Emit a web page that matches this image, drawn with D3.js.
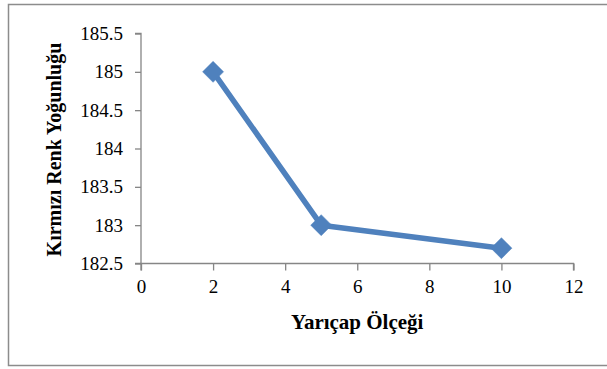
<!DOCTYPE html>
<html>
<head>
<meta charset="utf-8">
<script src="https://cdn.jsdelivr.net/npm/d3@7"></script>
<style>
  body { margin: 0; background: #fff; }
  svg text { font-family: 'Liberation Serif', 'Times New Roman', serif; fill: #000; }
</style>
</head>
<body>
<svg id="chart"></svg>
<script>
var width = 607;
var height = 369;

// data
var radiusScale = [2, 5, 10];
var redIntensity = [185, 183, 182.7];
var xTicks = [0, 2, 4, 6, 8, 10, 12];
var yTicks = [182.5, 183, 183.5, 184, 184.5, 185, 185.5];

var xTitle = 'Yarıçap Ölçeği';
var yTitle = 'Kırmızı Renk Yoğunluğu';

var serif = "'Liberation Serif', 'Times New Roman', serif";
var axisColor = '#868686';
var lineColor = '#4f81bd';

var svg = d3.select('#chart')
  .attr('width', width)
  .attr('height', height);

// outer chart border (right edge is cut off in the original)
svg.append('rect')
  .attr('x', 8.5)
  .attr('y', 4.5)
  .attr('width', 640)
  .attr('height', 361)
  .attr('fill', 'none')
  .attr('stroke', '#8c8c8c')
  .attr('stroke-width', 1.5);

var x = d3.scaleLinear().domain([0, 12]).range([141, 573.5]);
var y = d3.scaleLinear().domain([182.5, 185.5]).range([263.5, 33.5]);

// x axis
var xAxis = svg.append('g')
  .attr('transform', 'translate(0,' + y(182.5) + ')')
  .call(d3.axisBottom(x).tickValues(xTicks).tickSize(7).tickPadding(9).tickFormat(d3.format('d')));

// y axis
var yAxis = svg.append('g')
  .attr('transform', 'translate(' + x(0) + ',0)')
  .call(d3.axisLeft(y).tickValues(yTicks).tickSize(6).tickPadding(12).tickFormat(function(d) { return String(d); }));

[xAxis, yAxis].forEach(function(g) {
  g.attr('font-family', serif).attr('font-size', 19);
  g.select('.domain').attr('stroke', axisColor).attr('stroke-width', 1.3);
  g.selectAll('.tick line').attr('stroke', axisColor).attr('stroke-width', 1.3);
  g.selectAll('.tick text').attr('fill', '#000');
});
xAxis.select('.domain').attr('d', 'M' + x(0) + ',7V0H' + x(12) + 'V7');
yAxis.select('.domain').attr('d', 'M-6,' + y(185.5) + 'H0V' + y(182.5) + 'H-6');

// series
var points = radiusScale.map(function(r, i) { return { x: r, y: redIntensity[i] }; });

svg.append('path')
  .datum(points)
  .attr('fill', 'none')
  .attr('stroke', lineColor)
  .attr('stroke-width', 5.5)
  .attr('stroke-linejoin', 'round')
  .attr('d', d3.line().x(function(d) { return x(d.x); }).y(function(d) { return y(d.y); }));

svg.selectAll('.marker')
  .data(points)
  .enter()
  .append('path')
  .attr('class', 'marker')
  .attr('transform', function(d) { return 'translate(' + x(d.x) + ',' + y(d.y) + ')'; })
  .attr('d', 'M0,-10.5L10.5,0L0,10.5L-10.5,0Z')
  .attr('fill', lineColor)
  .attr('stroke', lineColor)
  .attr('stroke-width', 0.5);

// axis titles
svg.append('text')
  .attr('x', (x(0) + x(12)) / 2)
  .attr('y', 329)
  .attr('text-anchor', 'middle')
  .attr('font-family', serif)
  .attr('font-weight', 'bold')
  .attr('font-size', 21)
  .text(xTitle);

svg.append('text')
  .attr('transform', 'translate(61,' + ((y(182.5) + y(185.5)) / 2 + 1) + ') rotate(-90)')
  .attr('text-anchor', 'middle')
  .attr('font-family', serif)
  .attr('font-weight', 'bold')
  .attr('font-size', 20)
  .text(yTitle);
</script>
</body>
</html>
